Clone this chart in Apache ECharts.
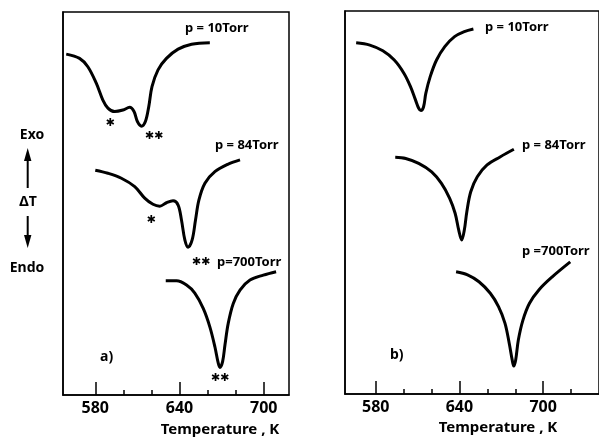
<!DOCTYPE html>
<html>
<head>
<meta charset="utf-8">
<script src="https://cdn.jsdelivr.net/npm/echarts@6/dist/echarts.min.js"></script>
<style>html,body{margin:0;padding:0;background:#fff}#c{width:599px;height:437px}</style>
</head>
<body>
<div id="c"></div>
<script>
// ---- Data (Temperature in K, ΔT in arbitrary units, 0 = bottom of frame, 100 = top) ----
const majorTicks = [580, 640, 700];
const minorTicksA = [600, 620, 660, 680];
const minorTicksB = [600, 620, 660, 680, 720];

// Panel a)
const tA10 = [559.3,568.8,574.7,580.7,585.4,589,593.8,599.7,604.5,607.6,610,612.9,615.7,618.1,620.4,624.7,630.7,639,648.6,661.6];
const dA10 = [89.0,87.9,85.7,81.4,77.0,74.9,74.0,74.4,75.1,74.0,71.4,70.2,71.4,75.3,80.5,84.9,87.9,90.3,91.6,92.0];

const tA84 = [580.0,589,598.6,608.1,615.2,621.1,625.9,630.7,635.4,639,641.4,643.8,646.1,649,651.4,653.8,658.1,665.2,674.7,683.1];
const dA84 = [58.7,57.9,56.6,54.4,51.4,49.8,49.3,50.2,50.7,49.6,45.7,40.5,38.6,40.5,45.7,50.9,55.3,58.3,60.3,61.4];

const tA700 = [630.2,637.9,645,650.9,656.9,661.6,665.2,667.6,668.8,670.7,672.4,674.7,678.3,683.1,690.2,699.7,708.8];
const dA700 = [29.8,29.8,28.7,26.6,22.6,17.8,12.6,8.3,7.2,8.7,13.1,18.7,23.9,27.4,30.0,31.3,32.2];

// Panel b)
const tB10 = [566.0,575.8,585.1,593.3,600.3,605,608.5,610.8,612.4,614.3,615.9,619,623.6,629.5,636.5,643.5,650];
const dB10 = [91.7,91.1,89.6,87.2,83.7,80.2,76.8,74.6,74.0,75.0,78.5,82.8,87.2,90.7,93.3,94.6,95.3];

const tB84 = [594,601.5,610.8,620.1,627.1,633,636.9,639.5,641.6,643.5,645.3,648.1,652.8,659.8,669.1,679];
const dB84 = [61.8,61.5,60.2,58.0,55.0,51.1,47.2,42.8,40.2,42.8,47.6,52.8,56.7,59.8,61.9,63.9];

const tB700 = [637.6,645.8,654,662.1,668,672.6,675.7,677.8,678.9,680.3,682.2,685.5,690.2,697.2,706.5,719.4];
const dB700 = [31.9,31.1,29.3,26.3,22.8,18.5,13.2,8.9,7.3,8.9,14.1,19.3,23.7,27.3,30.6,34.5];

// ---- Chart ----
const FONT = 'Noto Sans';
const zip = (a, b) => a.map((v, i) => [v, b[i]]);
const chart = echarts.init(document.getElementById('c'), null, {renderer: 'canvas'});

function mainX(grid, min, max) {
  return {
    type: 'value', gridIndex: grid, min: min, max: max, position: 'bottom',
    axisLine: {show: true, lineStyle: {color: '#000', width: 1.5}},
    axisTick: {show: true, inside: true, length: 13, customValues: majorTicks, lineStyle: {color: '#000', width: 1.5}},
    axisLabel: {show: true, customValues: majorTicks, color: '#000', fontSize: 16, fontWeight: 'bold', fontFamily: FONT, margin: 5},
    splitLine: {show: false}
  };
}
function minorX(grid, min, max, ticks) {
  return {
    type: 'value', gridIndex: grid, min: min, max: max, position: 'bottom',
    axisLine: {show: false},
    axisTick: {show: true, inside: true, length: 5, customValues: ticks, lineStyle: {color: '#000', width: 1.5}},
    axisLabel: {show: false},
    splitLine: {show: false}
  };
}
function yAx(grid) {
  return {
    type: 'value', gridIndex: grid, min: 0, max: 100,
    axisLine: {show: true, lineStyle: {color: '#000', width: 1.5}},
    axisTick: {show: false}, axisLabel: {show: false}, splitLine: {show: false}
  };
}
function curve(xi, yi, t, d) {
  return {
    type: 'line', xAxisIndex: xi, yAxisIndex: yi, data: zip(t, d),
    showSymbol: false, smooth: 0.35, silent: true,
    lineStyle: {color: '#000', width: 3}
  };
}
function txt(x, y, s, size, align) {
  return {
    type: 'text', x: x, y: y, silent: true,
    style: {text: s, fill: '#000', font: 'bold ' + size + 'px "' + FONT + '"', textAlign: align || 'left', textVerticalAlign: 'middle'}
  };
}
function star(x, y, s) {
  return {
    type: 'text', x: x, y: y, silent: true,
    style: {text: s, fill: '#000', font: 'bold 11px "DejaVu Sans"', textAlign: 'center', textVerticalAlign: 'middle'}
  };
}

chart.setOption({
  animation: false,
  backgroundColor: '#fff',
  grid: [
    {left: 63, top: 12, width: 226, height: 383, show: true, borderColor: '#000', borderWidth: 1.5, containLabel: false},
    {left: 345, top: 11, width: 260, height: 383, show: true, borderColor: '#000', borderWidth: 1.5, containLabel: false}
  ],
  xAxis: [mainX(0, 557, 718), minorX(0, 557, 718, minorTicksA), mainX(1, 558, 740), minorX(1, 558, 740, minorTicksB)],
  yAxis: [yAx(0), yAx(1)],
  series: [
    curve(0, 0, tA10, dA10), curve(0, 0, tA84, dA84), curve(0, 0, tA700, dA700),
    curve(2, 1, tB10, dB10), curve(2, 1, tB84, dB84), curve(2, 1, tB700, dB700)
  ],
  graphic: [
    // panel a labels
    txt(185, 28, 'p = 10Torr', 13),
    txt(215, 145, 'p = 84Torr', 13),
    txt(217, 262, 'p=700Torr', 13),
    star(110, 123, '✱'),
    star(154, 136, '✱✱'),
    star(151, 220, '✱'),
    star(201, 262, '✱✱'),
    star(220, 378, '✱✱'),
    txt(100, 357, 'a)', 14),
    txt(220, 430, 'Temperature , K', 15, 'center'),
    // y annotation
    txt(32, 135, 'Exo', 14, 'center'),
    txt(28, 202, 'ΔT', 14, 'center'),
    txt(27, 268, 'Endo', 14, 'center'),
    {type: 'line', silent: true, shape: {x1: 27.7, y1: 158, x2: 27.7, y2: 188}, style: {stroke: '#000', lineWidth: 2}},
    {type: 'polygon', silent: true, shape: {points: [[27.7, 148], [24, 161], [31.4, 161]]}, style: {fill: '#000'}},
    {type: 'line', silent: true, shape: {x1: 27.7, y1: 216, x2: 27.7, y2: 238}, style: {stroke: '#000', lineWidth: 2}},
    {type: 'polygon', silent: true, shape: {points: [[27.7, 248], [24, 235], [31.4, 235]]}, style: {fill: '#000'}},
    // panel b labels
    txt(485, 27, 'p = 10Torr', 13),
    txt(522, 145, 'p = 84Torr', 13),
    txt(522, 251, 'p =700Torr', 13),
    txt(390, 355, 'b)', 14),
    txt(498, 428, 'Temperature , K', 15, 'center')
  ]
});
</script>
</body>
</html>
